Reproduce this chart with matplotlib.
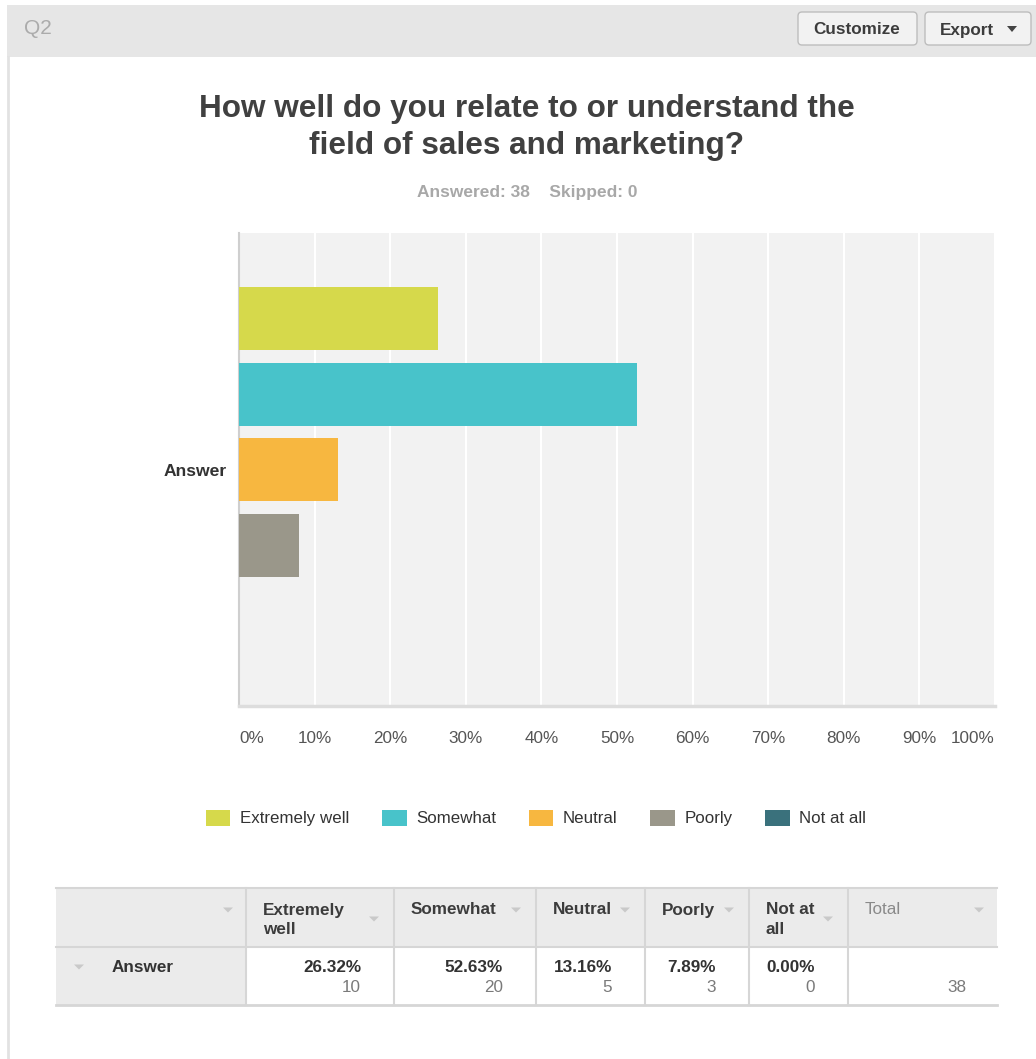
import matplotlib
matplotlib.use("Agg")
import matplotlib.pyplot as plt
from matplotlib.patches import Rectangle, FancyBboxPatch, Polygon, Patch

plt.rcParams['font.family'] = ['Liberation Sans', 'DejaVu Sans']

# Survey results
question = "How well do you relate to or understand the\nfield of sales and marketing?"
answered = 38
skipped = 0
row_label = "Answer"
choices = ["Extremely well", "Somewhat", "Neutral", "Poorly", "Not at all"]
header_labels = ["Extremely\nwell", "Somewhat", "Neutral", "Poorly", "Not at\nall"]
percents = [26.32, 52.63, 13.16, 7.89, 0.00]
counts = [10, 20, 5, 3, 0]
colors = ["#d6d94b", "#48c3ca", "#f7b740", "#9a978a", "#3a717c"]
xticks = [0, 10, 20, 30, 40, 50, 60, 70, 80, 90, 100]

W, H = 1036, 1059
fig = plt.figure(figsize=(W / 100, H / 100), dpi=100)

# Page layer in pixel coordinates
bg = fig.add_axes([0, 0, 1, 1])
bg.set_xlim(0, W)
bg.set_ylim(H, 0)
bg.axis('off')

# Header band with question number and buttons
bg.add_patch(Rectangle((7, 5), W - 7, 52, facecolor="#e6e6e6", edgecolor="none"))
bg.plot([8, 8], [57, H], color="#e2e2e2", lw=2)
bg.text(24, 28, "Q2", fontsize=15, color="#ababab", va='center', ha='left')


def button(x0, x1, label, cx):
    bg.add_patch(FancyBboxPatch((x0, 12), x1 - x0, 33,
                                boxstyle="round,pad=0,rounding_size=4",
                                facecolor="#f2f2f2", edgecolor="#bdbdbd", lw=1))
    bg.text(cx, 30, label, fontsize=12.3, fontweight='bold', color="#3c3c3c",
            ha='center', va='center')


button(798, 917, "Customize", 857)
button(925, 1031, "Export", 967)
bg.add_patch(Polygon([[1007, 26], [1017, 26], [1012, 32]], closed=True,
                     facecolor="#444444", edgecolor="none"))

# Title and response summary
title_lines = question.split("\n")
for k, line in enumerate(title_lines):
    bg.text(527, 109 + 37 * k, line, fontsize=22.7, fontweight='bold', color="#404040",
            ha='center', va='center')
bg.text(527, 192, f"Answered: {answered}    Skipped: {skipped}", fontsize=12.5,
        fontweight='bold', color="#a8a8a8", ha='center', va='center')

# Bar chart
x0, x1, y0, y1 = 239, 995, 233, 706
ax = fig.add_axes([x0 / W, 1 - y1 / H, (x1 - x0) / W, (y1 - y0) / H])
ax.set_facecolor("#f2f2f2")
pos = list(range(len(choices)))
ax.barh(pos, percents, height=0.83, color=colors, zorder=3)
ax.set_xlim(0, 100)
ax.set_ylim(len(choices) - 1 + 1.12, -1.13)
ax.set_xticks(xticks)
ax.set_xticklabels([f"{t}%" for t in xticks], fontsize=12.3, color="#555555")
tl = ax.get_xticklabels()
tl[0].set_ha('left')
tl[-1].set_ha('right')
ax.tick_params(axis='x', length=0, pad=18)
ax.set_yticks([(len(choices) - 1) / 2])
ax.set_yticklabels([row_label], fontsize=12.6, fontweight='bold', color="#333333")
ax.tick_params(axis='y', length=0, pad=9)
ax.grid(axis='x', color="white", lw=1.5, zorder=1)
ax.set_axisbelow(True)
for s in ['top', 'right']:
    ax.spines[s].set_visible(False)
ax.spines['left'].set_color("#cfcfcf")
ax.spines['left'].set_linewidth(1.5)
ax.spines['bottom'].set_color("#dddddd")
ax.spines['bottom'].set_linewidth(2.5)

# Legend
handles = [Patch(facecolor=c, edgecolor='none', label=l) for c, l in zip(colors, choices)]
fig.legend(handles=handles, loc='center', bbox_to_anchor=(536 / W, 1 - 818 / H),
           ncol=5, frameon=False, fontsize=12.2, handlelength=1.45, handleheight=1.1,
           handletextpad=0.55, columnspacing=1.95, labelcolor="#333333")

# Summary table
cols = [56, 246, 394, 536, 645, 749, 848, 997]
ty0, ty1, ty2 = 888, 947, 1005
line_c = "#d6d6d6"
fs_tab = 12.3
bg.add_patch(Rectangle((cols[0], ty0), cols[-1] - cols[0], ty1 - ty0,
                       facecolor="#ebebeb", edgecolor="none"))
bg.add_patch(Rectangle((cols[0], ty1), cols[1] - cols[0], ty2 - ty1,
                       facecolor="#ebebeb", edgecolor="none"))
bg.plot([cols[0], cols[-1]], [ty0, ty0], color=line_c, lw=1.5)
bg.plot([cols[0], cols[-1]], [ty1, ty1], color=line_c, lw=1.5)
bg.plot([cols[0], cols[-1]], [ty2, ty2], color=line_c, lw=2)
for cx in cols[1:-1]:
    bg.plot([cx, cx], [ty0, ty2], color=line_c, lw=1.5)


def tri(cx, cy, w=10, h=5, c="#c9c9c9"):
    bg.add_patch(Polygon([[cx - w / 2, cy - h / 2], [cx + w / 2, cy - h / 2],
                          [cx, cy + h / 2]], closed=True, facecolor=c, edgecolor='none'))


tri(228, 910)
for i, lab in enumerate(header_labels):
    left = cols[i + 1]
    parts = lab.split("\n")
    for k, part in enumerate(parts):
        bg.text(left + 17, 910 + 19 * k, part, fontsize=fs_tab, fontweight='bold',
                color="#3c3c3c", ha='left', va='center')
    tri(cols[i + 2] - 20, 919 if len(parts) > 1 else 910)
bg.text(cols[6] + 17, 910, "Total", fontsize=fs_tab, color="#8a8a8a", ha='left', va='center')
tri(cols[7] - 18, 910)

tri(79, 967)
bg.text(112, 968, row_label, fontsize=fs_tab, fontweight='bold', color="#333333",
        ha='left', va='center')
for i, (p, n) in enumerate(zip(percents, counts)):
    right = cols[i + 2] - 33
    bg.text(right, 968, f"{p:.2f}%", fontsize=fs_tab, fontweight='bold', color="#333333",
            ha='right', va='center')
    bg.text(right, 987, f"{n}", fontsize=fs_tab, color="#7a7a7a", ha='right', va='center')
bg.text(967, 987, f"{sum(counts)}", fontsize=fs_tab, color="#7a7a7a", ha='right', va='center')

fig.savefig("out.png", dpi=100, facecolor="white")
